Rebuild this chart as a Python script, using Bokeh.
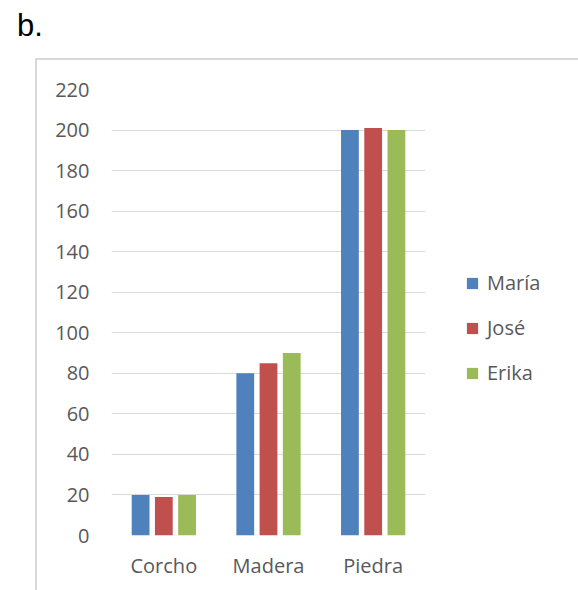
from bokeh.plotting import figure
from bokeh.models import FactorRange, Range1d, Legend, LegendItem, Div, FixedTicker, ColumnDataSource
from bokeh.transform import dodge
from bokeh.layouts import column
from bokeh.embed import file_html
from bokeh.resources import INLINE

# Data
materiales = ["Corcho", "Madera", "Piedra"]
maria = [20, 80, 200]
jose = [19, 85, 201]
erika = [20, 90, 200]
series_names = ["María", "José", "Erika"]
y_ticks = [0, 20, 40, 60, 80, 100, 120, 140, 160, 180, 200, 220]

colors = ["#4F81BD", "#C0504D", "#9BBB59"]
FONT = "Open Sans"
FONT_SIZE = "20px"
LABEL_COLOR = "#595959"
GRID_COLOR = "#d9d9d9"

source = ColumnDataSource(dict(material=materiales, maria=maria, jose=jose, erika=erika))

p = figure(
    x_range=FactorRange(*materiales, range_padding=0),
    y_range=Range1d(0, 220),
    frame_width=310, frame_height=444,
    output_backend="svg", toolbar_location=None,
    min_border_left=74, min_border_right=149,
    min_border_top=29, min_border_bottom=57,
    outline_line_color=None,
    margin=(0, 0, 0, 35),
    styles={"border-left": f"2px solid {GRID_COLOR}",
            "border-top": f"2px solid {GRID_COLOR}",
            "border-right": f"2px solid {GRID_COLOR}"},
)

bar_w = 0.17
step = 0.222
renderers = []
for col, off, c in zip(["maria", "jose", "erika"], [-step, 0, step], colors):
    r = p.vbar(x=dodge("material", off, range=p.x_range), top=col, width=bar_w,
               source=source, fill_color=c, line_color=None)
    renderers.append(r)

# Axes and grid
p.xgrid.grid_line_color = None
p.ygrid.grid_line_color = GRID_COLOR
p.ygrid.grid_line_width = 1
p.yaxis.ticker = FixedTicker(ticks=y_ticks)
for ax in (p.xaxis, p.yaxis):
    ax.axis_line_color = None
    ax.major_tick_line_color = None
    ax.minor_tick_line_color = None
    ax.major_tick_in = 0
    ax.major_tick_out = 0
    ax.major_label_text_font = FONT
    ax.major_label_text_font_size = FONT_SIZE
    ax.major_label_text_color = LABEL_COLOR
p.yaxis.major_label_standoff = 22
p.xaxis.major_label_standoff = 16

legend = Legend(
    items=[LegendItem(label=n, renderers=[r]) for n, r in zip(series_names, renderers)],
    location=(40, 149),
    orientation="vertical",
    border_line_color=None,
    background_fill_alpha=0,
    padding=0, margin=0,
    glyph_width=14, glyph_height=14,
    label_standoff=8,
    label_height=20,
    spacing=18,
    label_text_font=FONT,
    label_text_font_size=FONT_SIZE,
    label_text_color=LABEL_COLOR,
)
p.add_layout(legend, "right")

title = Div(text="b.", width=200, height=58, margin=0,
            styles={"font-family": "Liberation Sans, Arial, sans-serif",
                    "font-size": "31px", "color": "#000000",
                    "padding-left": "17px", "padding-top": "4px",
                    "box-sizing": "border-box"})

layout = column(title, p, spacing=0)

open("out.html", "w").write(file_html(layout, INLINE))
